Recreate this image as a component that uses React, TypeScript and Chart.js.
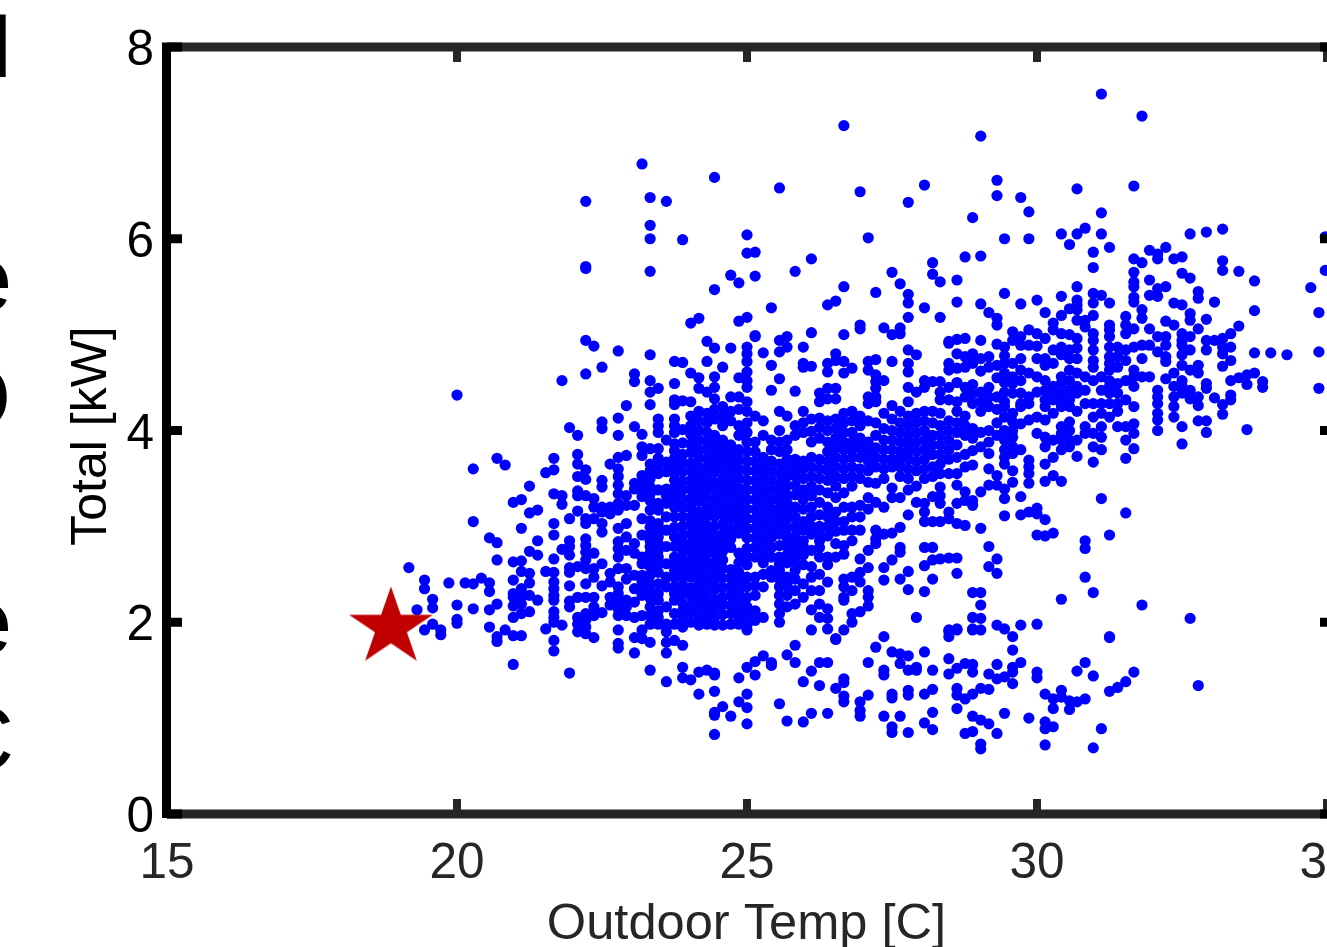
import React, { useEffect, useRef } from "react";
import { Chart, registerables } from "chart.js";

Chart.register(...registerables);

type Pair = [number, number];
type Column = [number, number[]];

const xTickValues = [15, 20, 25, 30, 35];
const yTickValues = [0, 2, 4, 6, 8];
const xAxisTitle = "Outdoor Temp [C]";
const yAxisTitle = "Total [kW]";
const referencePoint: Pair = [18.86, 1.945];

// Loads, grouped by outdoor temperature column.
const leftColumns: Column[] = [
  [19.17, [2.57]], [19.31, [2.13]], [19.44, [2.44, 2.35, 1.92]], [19.58, [2.24, 2.15, 1.98]],
  [19.72, [1.92, 1.87]], [19.86, [2.41]], [20.0, [4.37, 2.18, 2.03, 1.99]], [20.14, [2.41]],
  [20.28, [3.6, 3.05, 2.4, 2.14]], [20.42, [2.46]], [20.56, [2.88, 2.41, 2.32, 2.13, 1.95]],
  [20.69, [3.71, 2.83, 2.65, 2.19, 1.85, 1.8]], [20.83, [3.64, 1.92]],
  [20.97, [3.25, 2.63, 2.44, 2.3, 2.26, 2.17, 2.05, 1.86, 1.56]],
  [21.11, [3.28, 2.98, 2.64, 2.53, 2.35, 2.26, 2.19, 2.09, 1.86]],
  [21.25, [3.42, 3.14, 2.74, 2.51, 2.41, 2.28, 2.11]], [21.39, [3.17, 2.85, 2.7, 2.23]],
  [21.53, [3.56, 2.53, 1.93]],
  [21.67, [3.71, 3.59, 3.34, 3.03, 2.91, 2.66, 2.52, 2.42, 2.35, 2.28, 2.23, 2.11, 2.05, 2.0, 1.81, 1.7]],
  [21.81, [4.52, 3.32, 3.23, 2.76, 1.97]],
  [21.94, [4.03, 3.08, 2.85, 2.79, 2.7, 2.57, 2.52, 2.38, 2.22, 2.16, 1.47]],
  [22.08, [3.95, 3.75, 3.65, 3.52, 3.37, 3.32, 3.16, 2.58, 2.26, 2.05, 1.98, 1.9]],
  [22.22, [6.39, 5.71, 5.69, 4.94, 4.59, 3.59, 3.49, 3.32, 3.08, 3.03, 2.87, 2.8, 2.73, 2.65, 2.56, 2.4, 2.26, 2.09, 2.02, 1.95, 1.88]],
  [22.36, [4.88, 3.29, 3.2, 3.08, 2.72, 2.56, 2.47, 2.26, 2.16, 2.07, 1.84]],
  [22.5, [4.66, 4.09, 4.02, 3.48, 3.41, 3.2, 3.15, 3.03, 2.94, 2.61, 2.38, 2.1]],
  [22.64, [3.65, 3.2, 3.13, 2.51, 2.42, 2.26, 2.18]],
  [22.78, [4.83, 4.13, 3.95, 3.72, 3.6, 3.52, 3.43, 3.34, 3.24, 3.17, 2.98, 2.84, 2.77, 2.68, 2.56, 2.37, 2.3, 2.21, 2.14, 2.07, 1.92, 1.78, 1.73]],
  [22.92, [4.26, 3.74, 3.32, 3.22, 3.03, 2.89, 2.75, 2.56, 2.45, 2.23, 2.16, 2.07]],
  [23.06, [4.59, 4.51, 4.04, 3.45, 3.39, 3.22, 2.82, 2.72, 2.49, 2.35, 2.21, 2.05, 1.84, 1.68]],
  [23.19, [6.78, 3.96, 3.83, 3.74, 3.53, 3.45, 3.38, 3.31, 3.08, 2.91, 2.68, 2.61, 2.49, 2.42, 2.37, 2.28, 2.07, 1.92, 1.83]],
  [23.33, [6.43, 6.14, 6.0, 5.66, 4.79, 4.52, 4.4, 4.27, 3.81, 3.65, 3.58, 3.5, 3.41, 3.34, 3.27, 3.17, 3.06, 2.99, 2.92, 2.85, 2.79, 2.72, 2.65, 2.58, 2.49, 2.4, 2.33, 2.25, 2.16, 2.07, 1.98, 1.79, 1.5]],
  [23.47, [4.44, 4.12, 4.05, 3.98, 3.81, 3.71, 3.64, 3.55, 3.38, 3.24, 3.17, 3.03, 2.96, 2.89, 2.82, 2.75, 2.68, 2.61, 2.52, 2.4, 2.3, 2.23, 2.12, 2.05, 1.98]],
  [23.61, [6.39, 3.9, 3.67, 3.57, 3.39, 3.32, 3.24, 3.1, 2.96, 2.79, 2.61, 2.47, 2.37, 2.16, 1.98, 1.95, 1.9, 1.79, 1.68, 1.38]],
  [23.75, [4.72, 4.49, 4.32, 4.27, 4.12, 4.05, 3.98, 3.86, 3.79, 3.71, 3.62, 3.55, 3.48, 3.41, 3.34, 3.27, 3.2, 3.1, 2.99, 2.89, 2.79, 2.68, 2.61, 2.54, 2.47, 2.37, 2.3, 2.23, 2.09, 1.98, 1.81]],
];

const denseColumns: Column[] = [
  [23.89, [5.99, 4.71, 4.31, 4.01, 3.87, 3.75, 3.66, 3.57, 3.47, 3.38, 3.28, 3.19, 3.1, 3.0, 2.91, 2.84, 2.75, 2.66, 2.57, 2.48, 2.39, 2.3, 2.2, 2.12, 2.03, 1.95, 1.76, 1.53, 1.42]],
  [24.03, [5.12, 4.6, 4.3, 4.15, 4.05, 3.96, 3.86, 3.77, 3.66, 3.58, 3.48, 3.39, 3.29, 3.2, 3.1, 3.02, 2.92, 2.82, 2.74, 2.64, 2.55, 2.47, 2.36, 2.28, 2.18, 2.1, 2.0, 1.4]],
  [24.17, [5.17, 4.55, 4.44, 4.2, 4.1, 4.0, 3.9, 3.8, 3.72, 3.62, 3.53, 3.44, 3.35, 3.26, 3.15, 3.06, 2.96, 2.87, 2.78, 2.68, 2.6, 2.5, 2.41, 2.31, 2.22, 2.13, 2.03, 1.97, 1.48, 1.25]],
  [24.31, [4.93, 4.72, 4.4, 4.18, 4.08, 3.98, 3.88, 3.8, 3.7, 3.6, 3.5, 3.4, 3.3, 3.2, 3.11, 3.01, 2.93, 2.83, 2.73, 2.63, 2.55, 2.45, 2.35, 2.26, 2.17, 2.08, 1.98, 1.5]],
  [24.44, [6.64, 5.47, 4.86, 4.56, 4.45, 4.33, 4.22, 4.12, 3.95, 3.85, 3.75, 3.66, 3.57, 3.46, 3.38, 3.28, 3.18, 3.1, 3.0, 2.9, 2.8, 2.72, 2.62, 2.52, 2.43, 2.34, 2.24, 2.15, 2.05, 1.97, 1.47, 1.45, 1.28, 1.06, 1.03, 0.83]],
  [24.58, [4.66, 4.25, 4.15, 4.05, 3.9, 3.8, 3.7, 3.6, 3.5, 3.42, 3.32, 3.22, 3.12, 3.02, 2.92, 2.84, 2.74, 2.65, 2.56, 2.46, 2.36, 2.26, 2.18, 2.08, 1.97, 1.12]],
  [24.72, [5.62, 4.86, 4.35, 4.2, 4.1, 3.85, 3.75, 3.66, 3.56, 3.46, 3.36, 3.26, 3.17, 3.07, 2.97, 2.87, 2.78, 2.55, 2.46, 2.37, 2.28, 2.18, 2.09, 1.98, 1.02]],
  [24.86, [5.54, 5.14, 4.55, 4.35, 4.22, 4.05, 3.95, 3.8, 3.7, 3.6, 3.5, 3.4, 3.31, 3.22, 3.12, 3.03, 2.93, 2.72, 2.62, 2.52, 2.43, 2.33, 2.23, 2.13, 2.04, 1.98, 1.42, 1.17]],
  [25.0, [6.04, 5.85, 5.18, 4.87, 4.8, 4.72, 4.61, 4.52, 4.45, 4.3, 4.2, 4.08, 3.98, 3.88, 3.78, 3.68, 3.58, 3.48, 3.38, 3.28, 3.18, 3.08, 2.98, 2.88, 2.77, 2.68, 2.6, 2.47, 2.37, 2.26, 2.16, 2.07, 1.97, 1.92, 1.53, 1.25, 1.11, 0.94]],
  [25.14, [5.86, 5.61, 4.99, 4.98, 4.15, 3.88, 3.78, 3.68, 3.58, 3.48, 3.38, 3.28, 3.18, 3.08, 2.98, 2.88, 2.78, 2.68, 2.47, 2.38, 2.28, 2.12, 2.02, 1.59, 1.45]],
  [25.28, [4.81, 4.1, 3.95, 3.72, 3.62, 3.52, 3.42, 3.32, 3.22, 3.12, 3.02, 2.92, 2.82, 2.72, 2.62, 2.5, 2.37, 2.05, 1.65]],
  [25.42, [5.28, 4.68, 4.42, 3.9, 3.8, 3.68, 3.58, 3.48, 3.38, 3.28, 3.18, 3.08, 2.98, 2.88, 2.78, 2.68, 2.54, 2.47, 1.58, 1.55]],
  [25.56, [6.53, 4.94, 4.82, 4.54, 4.2, 4.0, 3.88, 3.78, 3.65, 3.55, 3.45, 3.35, 3.28, 3.2, 3.12, 3.02, 2.92, 2.8, 2.68, 2.61, 2.54, 2.45, 2.37, 2.28, 2.19, 2.09, 2.0, 1.15]],
  [25.69, [4.98, 4.87, 4.15, 3.9, 3.8, 3.7, 3.6, 3.52, 3.42, 3.32, 3.25, 3.17, 3.08, 2.98, 2.88, 2.79, 2.7, 2.62, 2.47, 2.38, 2.28, 2.16, 1.66, 0.97]],
  [25.83, [5.66, 4.41, 4.05, 3.95, 3.7, 3.62, 3.53, 3.43, 3.33, 3.2, 3.1, 3.0, 2.9, 2.82, 2.74, 2.68, 2.61, 2.54, 2.45, 2.33, 2.19, 1.76, 1.58]],
  [25.97, [4.87, 4.7, 4.66, 4.2, 4.08, 3.98, 3.68, 3.6, 3.5, 3.38, 3.28, 3.18, 3.05, 2.96, 2.85, 2.79, 2.7, 2.6, 2.4, 2.26, 1.38, 0.96]],
  [26.11, [5.79, 5.02, 4.67, 4.12, 3.99, 3.88, 3.72, 3.62, 3.52, 3.42, 3.32, 3.2, 3.1, 3.0, 2.92, 2.75, 2.58, 2.47, 2.33, 2.13, 1.92, 1.49, 1.05]],
  [26.25, [4.39, 4.3, 4.13, 4.03, 3.92, 3.7, 3.6, 3.5, 3.38, 3.25, 3.12, 3.0, 2.92, 2.85, 2.78, 2.68, 2.5, 2.33, 2.19, 2.05, 1.58, 1.34]],
  [26.39, [5.31, 4.7, 4.61, 4.44, 4.33, 4.1, 4.0, 3.88, 3.78, 3.68, 3.58, 3.48, 3.35, 3.2, 3.1, 3.0, 2.9, 2.68, 2.6, 2.42, 2.14, 2.04, 1.93, 1.58, 1.05]],
  [26.53, [5.35, 4.8, 4.73, 4.44, 4.33, 4.12, 4.02, 3.92, 3.82, 3.72, 3.62, 3.52, 3.42, 3.3, 3.15, 3.05, 2.95, 2.82, 2.68, 1.83, 1.82, 1.31]],
  [26.67, [7.18, 5.5, 5.0, 4.72, 4.6, 4.18, 4.08, 3.98, 3.88, 3.8, 3.7, 3.6, 3.5, 3.35, 3.2, 3.05, 2.96, 2.8, 2.71, 2.45, 2.37, 2.26, 2.23, 1.92, 1.41, 1.37, 1.23, 1.17]],
  [26.81, [4.65, 4.2, 4.1, 3.98, 3.88, 3.8, 3.72, 3.62, 3.52, 3.42, 3.2, 3.1, 2.96, 2.85, 2.47, 2.33, 2.09, 2.0]],
  [26.95, [6.49, 5.1, 5.06, 4.15, 4.05, 3.92, 3.82, 3.72, 3.6, 3.5, 3.22, 3.1, 2.96, 2.66, 2.52, 2.42, 2.11, 1.17, 1.08, 1.02]],
  [27.09, [6.01, 4.72, 4.63, 4.35, 4.28, 4.1, 3.88, 3.78, 3.68, 3.58, 3.46, 3.3, 3.18, 2.75, 2.57, 2.33, 2.26, 2.17, 1.58, 1.24]],
  [27.22, [5.44, 4.74, 4.58, 4.51, 4.44, 4.35, 4.3, 4.08, 3.95, 3.82, 3.72, 3.62, 3.45, 3.25, 2.96, 2.87, 2.82, 1.74]],
  [27.36, [5.07, 4.52, 4.18, 4.02, 3.9, 3.8, 3.7, 3.6, 3.5, 3.2, 2.92, 2.57, 2.44, 1.85, 1.5, 1.45, 1.02]],
  [27.5, [5.65, 5.0, 4.72, 4.26, 4.12, 4.0, 3.9, 3.8, 3.7, 3.62, 3.4, 3.3, 2.93, 2.65, 1.69, 1.25, 1.21, 0.91, 0.85]],
  [27.64, [5.53, 5.07, 5.01, 4.2, 4.08, 3.98, 3.88, 3.78, 3.7, 3.62, 3.52, 3.3, 2.99, 2.78, 2.73, 2.45, 1.67, 1.57, 1.02]],
  [27.78, [6.38, 5.42, 5.33, 5.18, 4.84, 4.7, 4.61, 4.45, 4.3, 4.15, 4.05, 3.95, 3.85, 3.78, 3.7, 3.6, 3.5, 3.38, 3.12, 2.53, 2.34, 1.65, 1.5, 1.29, 1.24, 0.85]],
  [27.92, [4.79, 4.4, 4.18, 4.08, 3.98, 3.88, 3.78, 3.68, 3.58, 3.42, 3.25, 2.05, 1.53, 1.5]],
  [28.06, [6.56, 5.28, 4.52, 4.45, 4.2, 4.1, 4.0, 3.9, 3.8, 3.7, 3.6, 3.5, 3.24, 3.15, 3.05, 2.78, 2.59, 2.32, 1.69, 1.25, 0.95]],
  [28.2, [5.75, 5.63, 4.51, 4.2, 4.08, 3.95, 3.85, 3.75, 3.62, 3.52, 3.31, 3.05, 2.78, 2.65, 2.45, 1.5, 1.3, 1.06, 0.88]],
  [28.33, [5.55, 5.18, 4.51, 4.4, 4.32, 4.18, 4.05, 3.95, 3.85, 3.75, 3.65, 3.55, 3.41, 3.32, 3.24, 3.05, 2.66]],
  [28.48, [4.93, 4.91, 4.7, 4.63, 4.45, 4.32, 4.1, 4.0, 3.9, 3.8, 3.7, 3.55, 3.15, 3.08, 2.67, 1.9, 1.85, 1.92, 1.62, 1.46]],
  [28.62, [5.57, 5.34, 4.95, 4.8, 4.65, 4.5, 4.3, 4.2, 4.08, 3.98, 3.85, 3.72, 3.55, 3.43, 3.24, 3.03, 2.67, 2.51, 1.93, 1.92, 1.52, 1.31, 1.24, 1.1]],
  [28.76, [5.81, 4.96, 4.77, 4.66, 4.45, 4.35, 4.15, 4.05, 3.95, 3.75, 3.62, 3.36, 3.27, 3.01, 1.57, 1.2, 0.84]],
  [28.89, [6.22, 4.8, 4.7, 4.48, 4.38, 4.28, 4.02, 3.92, 3.79, 3.64, 3.27, 3.22, 2.31, 2.05, 1.93, 1.92, 1.56, 1.48, 1.25, 1.02, 0.86]],
  [29.03, [7.07, 5.82, 5.32, 4.94, 4.75, 4.62, 4.4, 4.3, 4.2, 3.98, 3.83, 3.36, 2.98, 2.31, 2.18, 2.04, 1.92, 1.31, 0.98, 0.73, 0.68]],
  [29.17, [5.23, 4.77, 4.66, 4.45, 4.35, 4.25, 4.0, 3.88, 3.76, 3.6, 3.43, 2.79, 2.58, 1.46, 1.3, 0.94]],
  [29.31, [6.61, 6.45, 5.17, 5.1, 4.9, 4.68, 4.55, 4.35, 4.22, 4.08, 3.95, 3.53, 3.43, 2.66, 2.51, 1.97, 1.56, 1.41, 0.84]],
  [29.44, [6.0, 5.43, 4.87, 4.78, 4.7, 4.6, 4.5, 4.4, 4.3, 4.25, 4.14, 4.0, 3.9, 3.8, 3.72, 3.65, 3.39, 3.29, 3.11, 1.93, 1.43, 1.05]],
  [29.58, [5.03, 4.94, 4.7, 4.56, 4.49, 4.39, 4.18, 4.09, 4.0, 3.93, 3.83, 3.76, 3.58, 3.46, 1.85, 1.71, 1.53, 1.48, 1.36]],
  [29.72, [6.43, 5.32, 4.98, 4.89, 4.75, 4.63, 4.52, 4.39, 4.28, 4.25, 4.07, 3.8, 3.31, 3.12, 1.97, 1.58]],
  [29.86, [6.28, 6.0, 5.05, 4.89, 4.6, 4.35, 4.28, 4.11, 3.69, 3.62, 3.55, 3.45, 3.15, 1.0]],
  [30.0, [5.36, 5.01, 4.88, 4.75, 4.56, 4.4, 4.14, 3.97, 3.19, 3.13, 2.91, 1.98, 1.48, 1.42]],
  [30.14, [5.23, 4.96, 4.75, 4.68, 4.52, 4.42, 4.32, 4.25, 4.11, 3.93, 3.83, 3.65, 3.47, 3.07, 2.9, 1.25, 0.96, 0.89, 0.72]],
  [30.28, [5.12, 5.05, 4.84, 4.7, 4.46, 4.39, 4.32, 4.18, 3.9, 3.72, 3.53, 2.93, 1.2, 1.1, 0.91]],
  [30.42, [6.05, 5.4, 5.2, 5.01, 4.87, 4.79, 4.56, 4.49, 4.39, 4.32, 4.25, 4.04, 3.97, 3.9, 3.8, 3.47, 2.24, 1.29, 1.22]],
  [30.56, [5.94, 5.27, 5.0, 4.84, 4.75, 4.63, 4.52, 4.42, 4.32, 4.25, 4.09, 4.0, 3.9, 3.83, 1.18, 1.09]],
  [30.69, [6.52, 6.05, 5.5, 5.36, 5.31, 5.26, 5.15, 4.96, 4.86, 4.75, 4.6, 4.46, 4.39, 4.2, 3.9, 3.73, 1.49, 1.17]],
  [30.83, [6.11, 5.15, 5.08, 4.56, 4.42, 4.28, 4.04, 3.97, 1.58, 1.2, 2.85, 2.77, 2.47]],
  [30.97, [5.86, 5.7, 5.43, 5.33, 5.2, 5.01, 4.94, 4.84, 4.73, 4.66, 4.52, 4.28, 4.14, 3.97, 3.83, 3.67, 2.31, 1.44, 0.69]],
  [31.11, [7.51, 6.27, 6.05, 5.41, 4.56, 4.42, 4.28, 4.18, 4.04, 3.93, 3.8, 3.29, 0.89]],
  [31.25, [5.91, 5.33, 5.1, 5.05, 4.98, 4.87, 4.77, 4.7, 4.63, 4.52, 4.46, 4.39, 4.28, 4.14, 2.91, 1.85, 1.84, 1.28]],
  [31.39, [4.87, 4.77, 4.66, 4.49, 4.39, 4.28, 4.2, 4.04, 1.32]],
  [31.53, [5.19, 5.1, 5.01, 4.84, 4.73, 4.52, 4.32, 4.04, 3.9, 3.71, 3.14, 1.38]],
  [31.67, [6.55, 5.79, 5.65, 5.55, 5.5, 5.39, 5.34, 5.06, 4.87, 4.63, 4.56, 4.46, 4.25, 4.07, 3.97, 3.81, 1.48]],
  [31.81, [7.28, 5.75, 5.26, 5.17, 4.89, 4.75, 4.56, 2.18]],
  [31.94, [5.88, 5.57, 5.41, 5.06, 4.89, 4.56]],
  [32.08, [5.84, 5.79, 5.48, 5.4, 4.98, 4.82, 4.42, 4.35, 4.28, 4.18, 4.11, 4.0]],
  [32.22, [5.91, 5.5, 5.14, 4.98, 4.89, 4.77, 4.72, 4.54]],
  [32.36, [5.79, 5.33, 5.1, 4.6, 4.46, 4.35, 4.25, 4.14]],
  [32.5, [5.81, 5.64, 5.31, 5.01, 4.94, 4.89, 4.79, 4.68, 4.52, 4.46, 4.39, 4.04, 3.86]],
  [32.64, [6.05, 5.59, 5.22, 5.15, 4.98, 4.84, 4.63, 4.42, 4.33, 2.04]],
  [32.78, [5.45, 5.38, 5.06, 4.68, 4.6, 4.35, 4.26, 4.1, 1.34]],
  [32.92, [6.07, 5.16, 4.94, 4.84, 4.49, 4.44, 4.1, 3.98]],
  [33.06, [5.34, 4.94, 4.34]],
  [33.2, [6.1, 5.77, 5.67, 4.96, 4.87, 4.8, 4.67, 4.27, 4.17]],
  [33.34, [5.01, 4.87, 4.73, 4.52, 4.37, 4.32]],
  [33.48, [5.66, 5.09, 4.55]], [33.62, [4.58, 4.48, 4.01]],
  [33.75, [5.56, 5.25, 4.81, 4.6]], [33.89, [4.51, 4.45]], [34.03, [4.81]], [34.31, [4.79]],
  [34.72, [5.49]], [34.86, [5.23, 4.82, 4.44]], [34.97, [6.02, 5.67]],
];

const allColumns: Column[] = [...leftColumns, ...denseColumns];
const loadPoints = allColumns.flatMap(([t, kws]) => kws.map((kw) => ({ x: t, y: kw })));

// Large letters of the neighbouring panel, cut off by the page's left edge.
const clippedLetters = ["I", "e", "O", "e", "C"];

function makeStar(): HTMLCanvasElement {
  const c = document.createElement("canvas");
  c.width = 96;
  c.height = 96;
  const g = c.getContext("2d")!;
  g.fillStyle = "#c00000";
  g.beginPath();
  for (let i = 0; i < 10; i++) {
    const r = i % 2 === 0 ? 1 : 0.382;
    const a = (-90 + i * 36) * (Math.PI / 180);
    const px = 48 + 44 * r * Math.cos(a);
    const py = 48 + 41 * r * Math.sin(a);
    if (i === 0) g.moveTo(px, py);
    else g.lineTo(px, py);
  }
  g.closePath();
  g.fill();
  return c;
}

const framePlugin = {
  id: "frame",
  afterDatasetsDraw(chart: any) {
    const { ctx, chartArea: a, scales } = chart;
    const X = scales.x;
    const Y = scales.y;
    ctx.save();
    ctx.lineCap = "butt";
    ctx.strokeStyle = "#262626";
    ctx.lineWidth = 9;
    ctx.beginPath();
    ctx.moveTo(a.left, a.top);
    ctx.lineTo(a.right, a.top);
    ctx.moveTo(a.left, a.bottom);
    ctx.lineTo(a.right, a.bottom);
    ctx.stroke();
    ctx.lineWidth = 8;
    ctx.beginPath();
    xTickValues.forEach((v) => {
      const p = X.getPixelForValue(v);
      ctx.moveTo(p, a.bottom);
      ctx.lineTo(p, a.bottom - 15);
      ctx.moveTo(p, a.top);
      ctx.lineTo(p, a.top + 15);
    });
    ctx.stroke();
    ctx.strokeStyle = "#000000";
    ctx.lineWidth = 9;
    ctx.beginPath();
    ctx.moveTo(a.left - 0.5, a.top - 4.5);
    ctx.lineTo(a.left - 0.5, a.bottom + 4);
    ctx.moveTo(a.right, a.top - 4.5);
    ctx.lineTo(a.right, a.bottom + 4.5);
    yTickValues.forEach((v) => {
      const p = Y.getPixelForValue(v);
      ctx.moveTo(a.left, p);
      ctx.lineTo(a.left + 15, p);
      ctx.moveTo(a.right, p);
      ctx.lineTo(a.right - 16, p);
    });
    ctx.stroke();
    ctx.restore();
  },
  afterDraw(chart: any) {
    const { ctx } = chart;
    ctx.save();
    ctx.fillStyle = "#000000";
    ctx.font = "90px 'Liberation Sans'";
    ctx.textAlign = "left";
    ctx.textBaseline = "alphabetic";
    const inkRight = [6, 9, 7, 9, 11];
    const baselines = [77, 310, 429, 653, 770];
    clippedLetters.forEach((ch, i) => {
      const m = ctx.measureText(ch);
      ctx.fillText(ch, inkRight[i] - m.actualBoundingBoxRight, baselines[i]);
    });
    // Axis titles, centred where the picture has them rather than on the plot area.
    ctx.textAlign = "center";
    ctx.textBaseline = "middle";
    ctx.font = "50.6px 'Liberation Sans'";
    ctx.fillStyle = "#262626";
    ctx.fillText(xAxisTitle, 746.5, 925);
    ctx.fillStyle = "#000000";
    ctx.font = "50px 'Liberation Sans'";
    ctx.translate(92, 436);
    ctx.rotate(-Math.PI / 2);
    ctx.fillText(yAxisTitle, 0, 0);
    ctx.restore();
  },
};

export default function App() {
  const ref = useRef<HTMLCanvasElement | null>(null);
  useEffect(() => {
    const chart = new Chart(ref.current!, {
      type: "scatter",
      data: {
        datasets: [
          {
            label: "Total",
            data: loadPoints,
            backgroundColor: "#0000ff",
            borderColor: "#0000ff",
            borderWidth: 0,
            pointRadius: 5.6,
            order: 2,
          },
          {
            label: "Reference",
            data: [{ x: referencePoint[0], y: referencePoint[1] }],
            pointStyle: makeStar() as any,
            pointRadius: 44,
            order: 1,
          },
        ],
      },
      plugins: [framePlugin as any],
      options: {
        animation: false,
        responsive: false,
        devicePixelRatio: 1,
        layout: { padding: { top: 47, right: 1500 - 1336, left: 0, bottom: 0 } },
        plugins: { legend: { display: false }, tooltip: { enabled: false } },
        scales: {
          x: {
            type: "linear",
            min: 15,
            max: 35.155,
            afterFit: (s: any) => {
              s.height = 1000 - 814;
            },
            afterBuildTicks: (s: any) => {
              s.ticks = xTickValues.map((value) => ({ value }));
            },
            grid: { display: false, drawTicks: false },
            border: { display: false },
            ticks: {
              color: "#262626",
              font: { family: "'Liberation Sans'", size: 49.5 },
              padding: 21,
              maxRotation: 0,
              minRotation: 0,
              autoSkip: false,
              includeBounds: false,
            },
          },
          y: {
            type: "linear",
            min: 0,
            max: 8,
            afterFit: (s: any) => {
              s.width = 167;
            },
            afterBuildTicks: (s: any) => {
              s.ticks = yTickValues.map((value) => ({ value }));
            },
            grid: { display: false, drawTicks: false },
            border: { display: false },
            ticks: {
              color: "#000000",
              font: { family: "'Liberation Sans'", size: 49.5 },
              padding: 13,
              labelOffset: 4.5,
              autoSkip: false,
            },
          },
        },
      },
    } as any);
    return () => chart.destroy();
  }, []);
  return (
    <div style={{ position: "fixed", left: 0, top: 0, width: 1327, height: 947, overflow: "hidden", background: "#fff" }}>
      <canvas ref={ref} width={1500} height={1000} style={{ display: "block", width: 1500, height: 1000 }} />
    </div>
  );
}
